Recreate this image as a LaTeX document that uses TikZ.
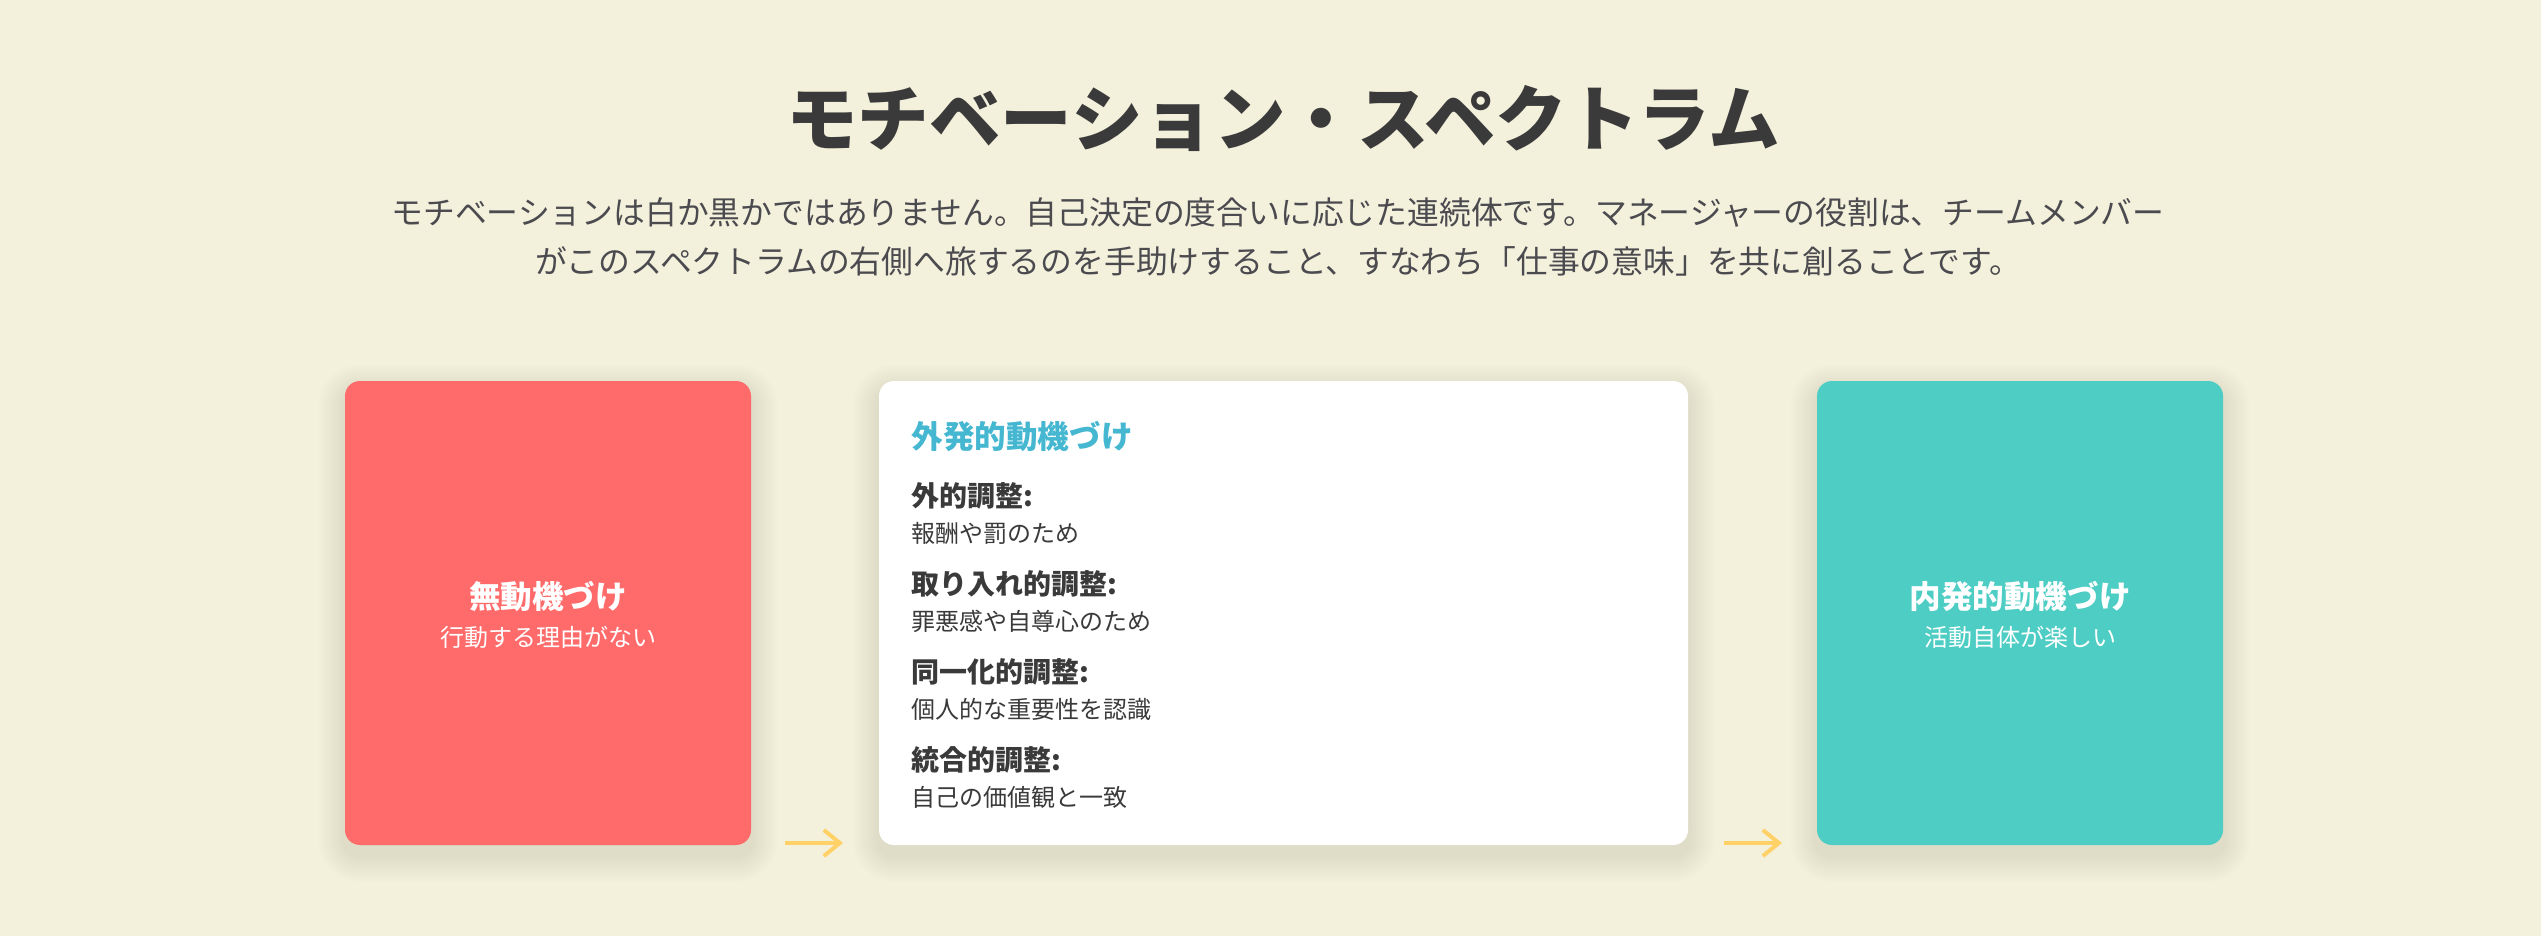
\documentclass[tikz,border=0pt]{standalone}
\usepackage{fontspec}
\setmainfont{Noto Sans CJK JP}
\usepackage{tikz}
\usetikzlibrary{positioning, backgrounds, arrows.meta}

\definecolor{bgcream}{HTML}{F3F0DC}
\definecolor{coral}{HTML}{FF6B6B}
\definecolor{turq}{HTML}{4ECDC4}
\definecolor{skyblue}{HTML}{45B7D1}
\definecolor{inkgray}{HTML}{3A3A3A}
\definecolor{leadgray}{HTML}{4A4A4F}
\definecolor{arrowyellow}{HTML}{FFD166}

\tikzset{
  card/.style={rectangle, rounded corners=7.5pt, minimum width=203pt, minimum height=232pt, inner sep=0pt},
  cardtitle/.style={text=white, font=\fontsize{15.8}{19}\bfseries, inner sep=0pt},
  carddesc/.style={text=white, font=\fontsize{12}{15}\selectfont, inner sep=0pt},
  itemhead/.style={anchor=west, text=inkgray, font=\fontsize{14}{17}\bfseries, inner sep=0pt},
  itemdesc/.style={anchor=west, text=inkgray, font=\fontsize{12}{15}\selectfont, inner sep=0pt},
  flow/.style={draw=arrowyellow, line width=2pt, -{Straight Barb[length=8pt,width=13pt]}}
}

\begin{document}
\begin{tikzpicture}[x=0.5pt, y=-0.5pt]
  \useasboundingbox (0,0) rectangle (2541,936);

  % title and lead text
  \node[text=inkgray, font=\fontsize{35.8}{42}\bfseries, inner sep=0pt] (ttl) at (1283,118) {モチベーション・スペクトラム};
  \node[text=leadgray, font=\fontsize{15.9}{24.5}\selectfont, align=center, inner sep=0pt] (lead) at (1278,237)
    {モチベーションは白か黒かではありません。自己決定の度合いに応じた連続体です。マネージャーの役割は、チームメンバー\\
     がこのスペクトラムの右側へ旅するのを手助けすること、すなわち「仕事の意味」を共に創ることです。};

  % three stages
  \node[card, fill=coral] (amot) at (548,613) {};
  \node[card, fill=white, minimum width=404.5pt] (extr) at (1283.5,613) {};
  \node[card, fill=turq] (intr) at (2020,613) {};

  \node[cardtitle] (amotT) at ([yshift=8pt]amot.center) {無動機づけ};
  \node[carddesc] (amotD) at ([yshift=-12pt]amot.center) {行動する理由がない};

  \node[cardtitle] (intrT) at ([yshift=8pt]intr.center) {内発的動機づけ};
  \node[carddesc] (intrD) at ([yshift=-12pt]intr.center) {活動自体が楽しい};

  \node[anchor=west, text=skyblue, font=\fontsize{15.8}{19}\bfseries, inner sep=0pt] (extrT) at (911,437) {外発的動機づけ};
  \foreach \hd/\ds [count=\i] in {外的調整:/報酬や罰のため, 取り入れ的調整:/罪悪感や自尊心のため,
      同一化的調整:/個人的な重要性を認識, 統合的調整:/自己の価値観と一致} {
    \node[itemhead] (h\i) at (911,{496+88*(\i-1)}) {\hd};
    \node[itemdesc] (d\i) at (911,{533+88*(\i-1)}) {\ds};
  }

  % arrows
  \coordinate (a1s) at (785,843);
  \coordinate (a1e) at (843,843);
  \coordinate (a2s) at (1724,843);
  \coordinate (a2e) at (1782,843);
  \draw[flow] (a1s) -- (a1e);
  \draw[flow] (a2s) -- (a2e);

  % soft shadows behind the cards
  \begin{scope}[on background layer]
    \fill[bgcream] (0,0) rectangle (2541,936);
    \foreach \c in {amot,extr,intr}
      \foreach \k in {1,...,10}
        \fill[black, opacity=0.0075, rounded corners={7.5pt+\k*1.3pt}]
          ([shift={(-\k*1.3pt,-\k*1.3pt-5pt)}]\c.south west) rectangle ([shift={(\k*1.3pt,\k*1.3pt-5pt)}]\c.north east);
  \end{scope}
\end{tikzpicture}
\end{document}
